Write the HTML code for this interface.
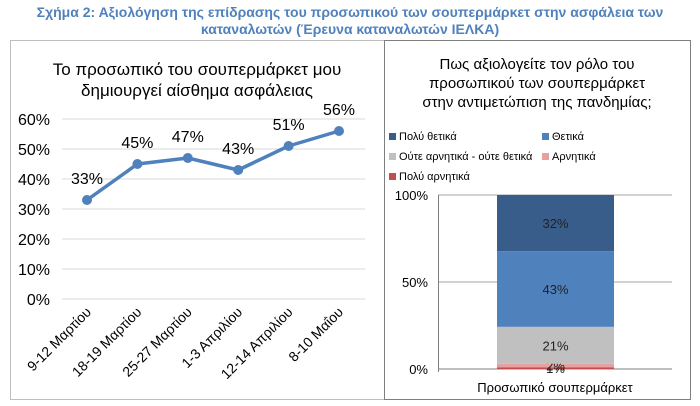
<!DOCTYPE html>
<html><head><meta charset="utf-8"><style>
body{margin:0;width:700px;height:406px;background:#fff;font-family:"Liberation Sans",sans-serif;overflow:hidden;position:relative}
.t{position:absolute;left:0;width:700px;text-align:center;color:#4f81bd;font-weight:bold;font-size:14px;line-height:17px}
</style></head><body>
<div class="t" style="top:4px">Σχήμα 2: Αξιολόγηση της επίδρασης του προσωπικού των σουπερμάρκετ στην ασφάλεια των<br>καταναλωτών (Έρευνα καταναλωτών ΙΕΛΚΑ)</div>
<svg width="700" height="406" style="position:absolute;left:0;top:0" font-family="Liberation Sans, sans-serif">
<rect x="10.5" y="40.5" width="374" height="359" fill="none" stroke="#bfbfbf"/>
<rect x="384.5" y="40.5" width="306" height="359" fill="none" stroke="#7f7f7f"/>
<g id="left"></g><g id="right"></g>
</svg>
<script>
const ns="http://www.w3.org/2000/svg";
function mk(p,t,a,txt){const e=document.createElementNS(ns,t);for(const k in a)e.setAttribute(k,a[k]);if(txt!==undefined)e.textContent=txt;p.appendChild(e);return e;}
// Line chart data
const lineCats=["9-12 Μαρτίου","18-19 Μαρτίου","25-27 Μαρτίου","1-3 Απριλίου","12-14 Απριλίου","8-10 Μαΐου"];
const lineVals=[33,45,47,43,51,56];
const lineTicks=[0,10,20,30,40,50,60];
// Stacked bar data
const barCats=["Πολύ αρνητικά","Αρνητικά","Ούτε αρνητικά - ούτε θετικά","Θετικά","Πολύ θετικά"];
const barVals=[1,2,21,43,32];
const barColors=["#c0504d","#e6a09f","#c0c0c0","#4f81bd","#385d8a"];
const barTicks=[0,50,100];

const L=document.getElementById('left');
let e=mk(L,'text',{x:197,y:75,'text-anchor':'middle','font-size':17,fill:'#000'},'Το προσωπικό του σουπερμάρκετ μου');

e=mk(L,'text',{x:197,y:96,'text-anchor':'middle','font-size':17,fill:'#000'},'δημιουργεί αίσθημα ασφάλειας');

const ly=v=>299-v*3, lx=i=>87+i*50.4;
lineTicks.forEach(t=>{
 const g=mk(L,'line',{x1:62,x2:365,y1:ly(t),y2:ly(t),stroke:'#d9d9d9'});
 
 const tx=mk(L,'text',{x:50,y:ly(t)+6,'text-anchor':'end','font-size':16,fill:'#000'},t+'%');
 
});
const pl=mk(L,'polyline',{points:lineVals.map((v,i)=>lx(i)+','+ly(v)).join(' '),fill:'none',stroke:'#4f81bd','stroke-width':3.5,'stroke-linejoin':'round'});

lineVals.forEach((v,i)=>{
 const c=mk(L,'circle',{cx:lx(i),cy:ly(v),r:5,fill:'#4f81bd'});
 
 const t=mk(L,'text',{x:lx(i),y:ly(v)-16,'text-anchor':'middle','font-size':16,fill:'#000'},v+'%');
 
 const x=mk(L,'text',{x:lx(i)+5,y:313,'text-anchor':'end','font-size':14,fill:'#000',transform:`rotate(-45 ${lx(i)+5} 313)`},lineCats[i]);
 
});

const R=document.getElementById('right');
["Πως αξιολογείτε τον ρόλο του","προσωπικού των σουπερμάρκετ","στην αντιμετώπιση της πανδημίας;"].forEach((s,i)=>{
 const t=mk(R,'text',{x:537,y:69+i*19,'text-anchor':'middle','font-size':15,fill:'#000'},s);
 
});
const legPos=[[4,0,0],[3,1,0],[2,0,1],[1,1,1],[0,0,2]];
legPos.forEach(([k,col,row])=>{
 const x=389+col*153,y=137+row*20;
 const r=mk(R,'rect',{x:x,y:y-4,width:7,height:7,fill:barColors[k]});
 
 const t=mk(R,'text',{x:x+10,y:y+3,'font-size':11,fill:'#000'},barCats[k]);
 
});
const total=barVals.reduce((a,b)=>a+b,0);
const by=v=>369-v*1.74;
barTicks.forEach(t=>{
 const g=mk(R,'line',{x1:438,x2:672,y1:by(t),y2:by(t),stroke:t===0?'#7f7f7f':'#a6a6a6'});
 
 const tx=mk(R,'text',{x:428,y:by(t)+5,'text-anchor':'end','font-size':13,fill:'#000'},t+'%');
 
});
const ax=mk(R,'line',{x1:438.5,x2:438.5,y1:195,y2:372,stroke:'#7f7f7f'});

let acc=0;
barVals.forEach((v,i)=>{
 const p0=acc/total*100,p1=(acc+v)/total*100;acc+=v;
 const r=mk(R,'rect',{x:497,y:by(p1),width:117,height:by(p0)-by(p1),fill:barColors[i]});
 
 const t=mk(R,'text',{x:555.5,y:(by(p0)+by(p1))/2+5,'text-anchor':'middle','font-size':13,fill:'#222'},v+'%');
 
});
e=mk(R,'text',{x:555,y:392,'text-anchor':'middle','font-size':13,fill:'#000'},'Προσωπικό σουπερμάρκετ');

</script>
</body></html>
